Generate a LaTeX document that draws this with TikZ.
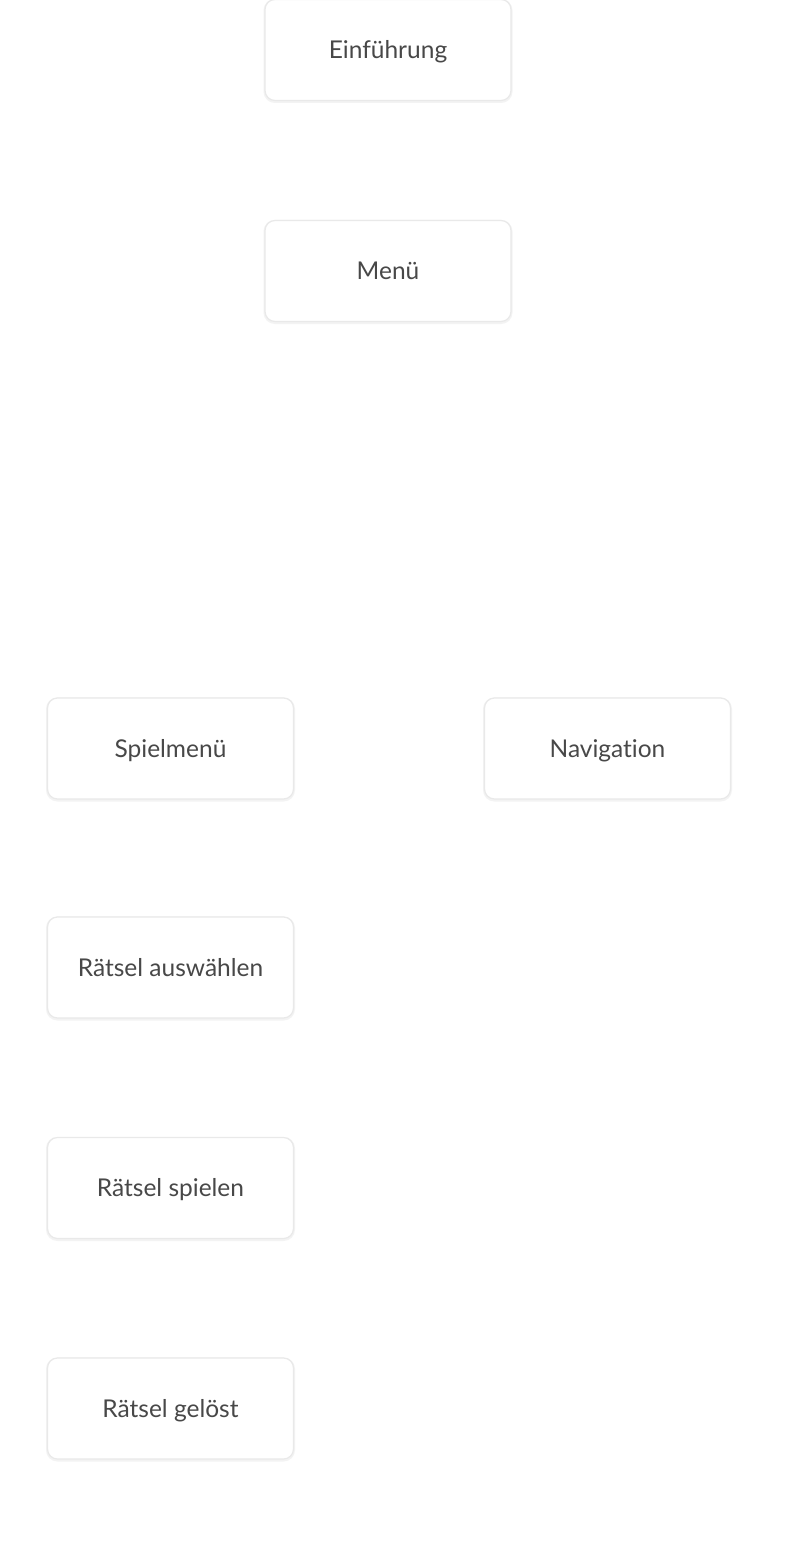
\documentclass[tikz,border=0pt]{standalone}
\usepackage{fontspec}
\setmainfont{Lato}[Ligatures=NoCommon]
\definecolor{txt}{HTML}{484848}
\definecolor{edge}{HTML}{E9E9E9}
\definecolor{shade}{HTML}{F3F3F3}
\begin{document}
\begin{tikzpicture}[x=1pt,y=-1pt,
  box/.style={draw=edge, line width=1.2pt, fill=white, rounded corners=10pt,
    minimum width=246pt, minimum height=101pt, inner sep=0pt,
    text height=17pt, text depth=0pt,
    text=txt, font=\fontsize{24.5}{27}\selectfont,
    preaction={draw=shade, line width=3pt, transform canvas={yshift=-1pt}}},
  ]
\useasboundingbox (0,0) rectangle (788,1546);
\fill[white] (0,0) rectangle (788,1546);
\node[box] (einf) at (388,50) {Einführung};
\node[box] (menu) at (388,271) {Menü};
\node[box] (spiel) at (170.5,748.5) {Spielmenü};
\node[box] (nav) at (607.5,748.5) {Navigation};
\node[box] (ausw) at (170.5,967.5) {Rätsel auswählen};
\node[box] (spielen) at (170.5,1188) {Rätsel spielen};
\node[box] (geloest) at (170.5,1408.5) {Rätsel gelöst};
\end{tikzpicture}
\end{document}
